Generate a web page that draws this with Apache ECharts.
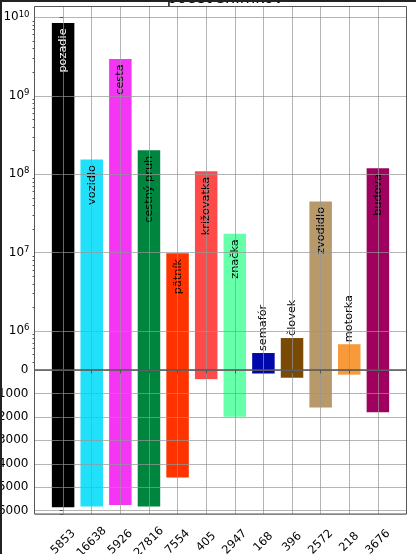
<!DOCTYPE html>
<html>
<head>
<meta charset="utf-8">
<script src="https://cdn.jsdelivr.net/npm/echarts@6/dist/echarts.min.js"></script>
<style>
  html, body { margin: 0; padding: 0; background: #fff; }
  #chart { width: 416px; height: 554px; }
</style>
</head>
<body>
<div id="chart"></div>
<script>
var classNames = ['pozadie', 'vozidlo', 'cesta', 'cestný pruh', 'pätník', 'križovatka',
  'značka', 'semafór', 'človek', 'zvodidlo', 'motorka', 'budova'];
// pixel counts (top, log axis)
var pixelCounts = [8.5e9, 1.54e8, 2.95e9, 2.02e8, 9.8e6, 1.09e8, 1.74e7, 5.25e5, 8.15e5, 4.5e7, 6.8e5, 1.19e8];
// image counts (bottom, inverted axis)
var imageCounts = [5853, 5820, 5760, 5820, 4580, 390, 1990, 150, 330, 1600, 200, 1800];
// x tick labels
var tickLabels = ['5853', '16638', '5926', '27816', '7554', '405', '2947', '168', '396', '2572', '218', '3676'];
var barColors = ['#000000', '#20e0fa', '#f535f5', '#00853f', '#ff3300', '#ff4a4a',
  '#66ffaa', '#0008aa', '#7a4a05', '#b8996a', '#f89a3a', '#a0005e'];
var logTicks = [1e6, 1e7, 1e8, 1e9, 1e10];

var FONT = 'DejaVu Sans';
var SPINE = '#555555';
var GRID = 'rgba(150,150,150,0.7)';
var logMin = 3.19e5, logMax = 1.375e10;

var minorTicks = [];
for (var e = 5; e <= 10; e++) {
  for (var m = 2; m <= 9; m++) {
    var v = m * Math.pow(10, e);
    if (v > logMin && v < logMax) minorTicks.push(v);
  }
}
var idx = classNames.map(function (_, i) { return i; });

var chart = echarts.init(document.getElementById('chart'));

chart.setOption({
  animation: false,
  backgroundColor: '#fff',
  title: {
    text: 'počet snímkov',
    left: 220,
    top: -14,
    textAlign: 'center',
    textStyle: { fontFamily: FONT, fontSize: 16, fontWeight: 'normal', color: '#000' }
  },
  graphic: [
    { type: 'rect', left: 0, top: 0, shape: { width: 2, height: 554 }, style: { fill: '#222' }, z: 100 },
    { type: 'rect', left: 0, top: 0, shape: { width: 416, height: 2 }, style: { fill: '#222' }, z: 100 }
  ],
  grid: [
    { left: 34.5, right: 9.5, top: 6.5, height: 363.5, show: true, borderColor: SPINE, borderWidth: 1,
      backgroundColor: 'transparent', z: 5, outerBoundsMode: 'none' },
    { left: 34.5, right: 9.5, top: 370, height: 144, show: true, borderColor: SPINE, borderWidth: 1,
      backgroundColor: 'transparent', z: 5, outerBoundsMode: 'none' }
  ],
  xAxis: [
    {
      gridIndex: 0, type: 'value', min: -1, max: 12, interval: 1, z: 4,
      axisLine: { show: false }, axisTick: { show: false }, axisLabel: { show: false },
      splitLine: { show: true, lineStyle: { color: GRID, width: 1 } }
    },
    {
      gridIndex: 1, type: 'value', min: -1, max: 12, interval: 1, z: 4,
      axisLine: { show: false },
      axisTick: { show: true, customValues: idx, length: 3.5, lineStyle: { color: SPINE } },
      axisLabel: {
        customValues: idx, rotate: 45, align: 'center', verticalAlign: 'middle', margin: 28,
        fontFamily: FONT, fontSize: 11.5, color: '#000',
        formatter: function (v) { return tickLabels[v] || ''; }
      },
      splitLine: { show: true, lineStyle: { color: GRID, width: 1 } }
    }
  ],
  yAxis: [
    {
      gridIndex: 0, type: 'log', logBase: 10, min: logMin, max: logMax, z: 4, position: 'left',
      axisLine: { show: false },
      axisTick: { show: true, customValues: logTicks, length: 3.5, lineStyle: { color: SPINE } },
      axisLabel: {
        customValues: logTicks, margin: 5,
        fontFamily: FONT, fontSize: 12, color: '#000',
        formatter: function (v) {
          var p = Math.round(Math.log10(v));
          return '10{sup|' + p + '}';
        },
        rich: { sup: { fontFamily: FONT, fontSize: 8.5, color: '#000', verticalAlign: 'top', padding: [0, 0, 6, 0] } }
      },
      splitLine: { show: true, lineStyle: { color: GRID, width: 1 } }
    },
    {
      gridIndex: 0, type: 'log', logBase: 10, min: logMin, max: logMax, z: 4, position: 'left', offset: 0,
      axisLine: { show: false },
      axisTick: { show: true, customValues: minorTicks, length: 2, lineStyle: { color: SPINE } },
      axisLabel: { show: false },
      splitLine: { show: false }
    },
    {
      gridIndex: 1, type: 'value', inverse: true, min: 0, max: 6140, interval: 1000, z: 4,
      axisLine: { show: false },
      axisTick: { show: true, length: 3.5, lineStyle: { color: SPINE } },
      axisLabel: {
        margin: 6, fontFamily: FONT, fontSize: 12, color: '#000',
        formatter: function (v) { return v % 1000 === 0 ? String(v) : ''; }
      },
      splitLine: { show: true, lineStyle: { color: GRID, width: 1 } }
    }
  ],
  series: [
    {
      type: 'bar', xAxisIndex: 0, yAxisIndex: 0, barWidth: 22.5, clip: true, z: 2,
      data: pixelCounts.map(function (v, i) {
        var outside = v < 1e6;
        return {
          value: [i, v],
          itemStyle: { color: barColors[i] },
          label: {
            show: true,
            formatter: classNames[i],
            rotate: 90,
            position: outside ? 'top' : 'insideTop',
            distance: outside ? 2 : 5.5,
            align: outside ? 'left' : 'right',
            verticalAlign: 'middle',
            fontFamily: FONT,
            fontSize: 11.3,
            color: barColors[i] === '#000000' ? '#fff' : '#000'
          }
        };
      })
    },
    {
      type: 'bar', xAxisIndex: 1, yAxisIndex: 2, barWidth: 22.5, clip: true, z: 2,
      data: imageCounts.map(function (v, i) {
        return { value: [i, v], itemStyle: { color: barColors[i] } };
      })
    }
  ]
});
</script>
</body>
</html>
